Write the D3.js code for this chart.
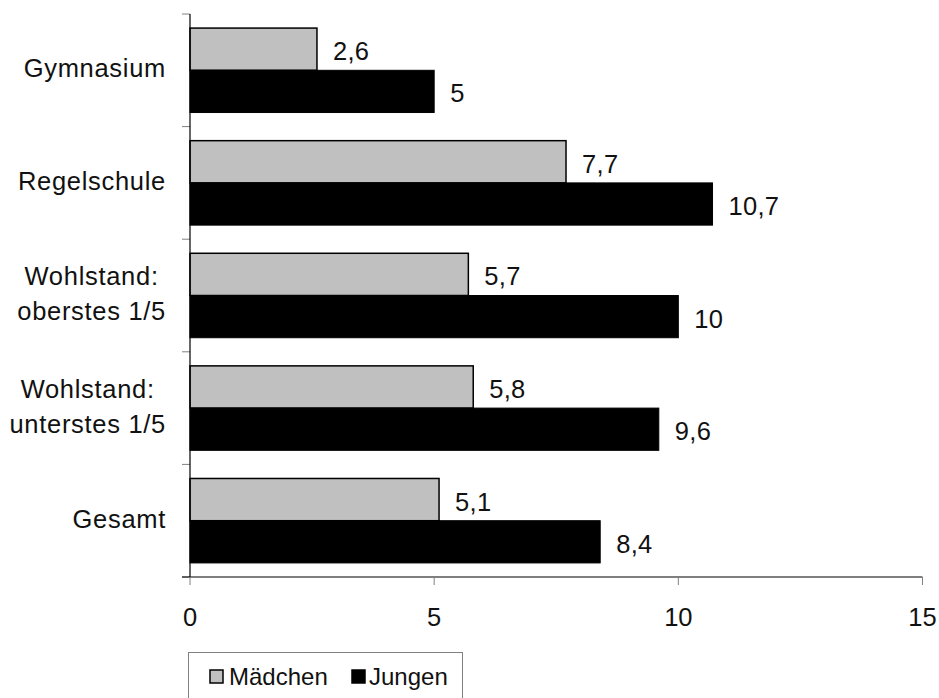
<!DOCTYPE html>
<html><head><meta charset="utf-8">
<script src="https://cdn.jsdelivr.net/npm/d3@7"></script>
<style>
html,body{margin:0;padding:0;background:#fff;}
svg{display:block;font-family:"Liberation Sans",Arial,sans-serif;}
</style></head>
<body><svg id="c" width="939" height="698"></svg>
<script>
const categories = [["Gymnasium"],["Regelschule"],["Wohlstand:","oberstes 1/5"],["Wohlstand:","unterstes 1/5"],["Gesamt"]];
const seriesNames = ["Mädchen","Jungen"];
const maedchen = [2.6, 7.7, 5.7, 5.8, 5.1];
const jungen = [5, 10.7, 10, 9.6, 8.4];
const xTicks = [0, 5, 10, 15];
const colors = ["#c0c0c0", "#000000"];

const svg = d3.select("#c");
const W = 939, H = 698;
const m = {left:190, right:16.5, top:14, bottom:121};
const plotH = H - m.top - m.bottom;
const x = d3.scaleLinear().domain([0,15]).range([m.left, W - m.right]);
const keys = categories.map((c,i)=>i);
const y = d3.scaleBand().domain(keys).range([m.top, m.top+plotH]).paddingInner(0.25).paddingOuter(0.125);
const ySub = d3.scaleBand().domain([0,1]).range([0, y.bandwidth()]);
const fmt = v => String(v).replace(".", ",");
const FS = 25.5;
const TXT = "#111";

const step = y.step();
const boundaries = d3.range(categories.length + 1).map(i => m.top + i*step);
svg.append("g").selectAll("line").data(boundaries).join("line")
  .attr("x1", m.left - 8).attr("x2", m.left).attr("y1", d=>d).attr("y2", d=>d)
  .attr("stroke", "#808080").attr("stroke-width", 1);

const series = [maedchen, jungen];
series.forEach((vals, s) => {
  svg.append("g").selectAll("rect").data(vals).join("rect")
    .attr("x", x(0))
    .attr("y", (d,i) => y(i) + ySub(s))
    .attr("width", d => x(d) - x(0))
    .attr("height", ySub.bandwidth())
    .attr("fill", colors[s])
    .attr("stroke", "#000").attr("stroke-width", s===0 ? 1.5 : 1);
  svg.append("g").selectAll("text").data(vals).join("text")
    .attr("x", d => x(d) + 16)
    .attr("y", (d,i) => y(i) + ySub(s) + ySub.bandwidth()/2 + 2)
    .attr("dy", "0.35em")
    .attr("font-size", FS).attr("fill", TXT).attr("letter-spacing", 0.3)
    .text(d => fmt(d));
});

svg.append("line").attr("x1", m.left).attr("x2", m.left).attr("y1", m.top).attr("y2", m.top+plotH).attr("stroke","#000").attr("stroke-width",1.2);
svg.append("line").attr("x1", m.left - 8).attr("x2", W - m.right).attr("y1", m.top+plotH).attr("y2", m.top+plotH).attr("stroke","#000").attr("stroke-width",1.2);

const xg = svg.append("g");
xg.selectAll("line").data(xTicks).join("line")
  .attr("x1", d=>x(d)).attr("x2", d=>x(d)).attr("y1", m.top+plotH).attr("y2", m.top+plotH+8)
  .attr("stroke", "#808080");
xg.selectAll("text").data(xTicks).join("text")
  .attr("x", d=>x(d)).attr("y", m.top+plotH+40).attr("dy","0.35em")
  .attr("text-anchor","middle").attr("font-size", FS).attr("fill", TXT).text(d=>d);

const lineH = 35;
const labelRight = 166;
categories.forEach((lines, i) => {
  const cy = y(i) + y.bandwidth()/2 - 2;
  const g = svg.append("g");
  const texts = g.selectAll("text").data(lines).join("text")
    .attr("font-size", FS).attr("dy","0.35em").attr("fill", TXT).attr("letter-spacing", 0.7)
    .attr("y", (d,j) => cy + (j - (lines.length-1)/2) * lineH)
    .text(d=>d);
  let maxW = 0;
  texts.each(function(){ maxW = Math.max(maxW, this.getComputedTextLength()); });
  texts.attr("text-anchor","middle").attr("x", labelRight - maxW/2);
});

const lg = svg.append("g");
lg.append("rect").attr("x", 188.5).attr("y", 652.5).attr("width", 274).attr("height", 50)
  .attr("fill","#fff").attr("stroke","#808080");
const legendItems = [{name:seriesNames[0], c:colors[0], sx:210, tx:229},{name:seriesNames[1], c:colors[1], sx:352, tx:369}];
legendItems.forEach(it => {
  lg.append("rect").attr("x", it.sx).attr("y", 670).attr("width", 13).attr("height", 13)
    .attr("fill", it.c).attr("stroke","#000").attr("stroke-width",1.5);
  lg.append("text").attr("x", it.tx).attr("y", 685).attr("font-size", 24).attr("fill", TXT).text(it.name);
});
</script></body></html>
